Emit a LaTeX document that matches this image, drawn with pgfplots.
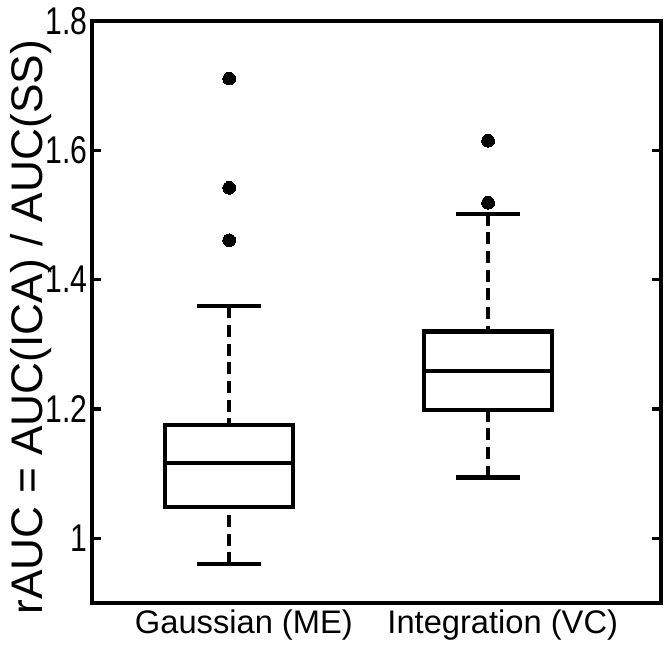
\documentclass[border=0pt]{standalone}
\usepackage{fontspec}
\setmainfont{Liberation Sans}
\newfontfamily\narrowsans[FakeStretch=0.78]{Liberation Sans}
\usepackage{pgfplots}
\pgfplotsset{compat=1.18}
\usepgfplotslibrary{statistics}
\usetikzlibrary{calc}

% MATLAB-like boxplot: dashed stems, solid caps
\pgfplotsset{
  mlbox/.style={
    black, line width=3.2pt,
    mark=*, mark size=4.8pt,
    mark options={solid, fill=black, line width=0pt},
    boxplot/draw direction=y,
    boxplot/box extend=0.494,
    boxplot/whisker extend=0.247,
    boxplot/draw/lower whisker/.code={%
      \draw[dash pattern=on 9pt off 5pt]
        (boxplot whisker cs:\pgfplotsboxplotvalue{lower whisker},0.5) --
        (boxplot whisker cs:\pgfplotsboxplotvalue{lower quartile},0.5);
      \draw
        (boxplot whisker cs:\pgfplotsboxplotvalue{lower whisker},0) --
        (boxplot whisker cs:\pgfplotsboxplotvalue{lower whisker},1);
    },
    boxplot/draw/upper whisker/.code={%
      \draw[dash pattern=on 9pt off 5pt]
        (boxplot whisker cs:\pgfplotsboxplotvalue{upper whisker},0.5) --
        (boxplot whisker cs:\pgfplotsboxplotvalue{upper quartile},0.5);
      \draw
        (boxplot whisker cs:\pgfplotsboxplotvalue{upper whisker},0) --
        (boxplot whisker cs:\pgfplotsboxplotvalue{upper whisker},1);
    },
  },
}

\begin{document}
\begin{tikzpicture}
\begin{axis}[
    scale only axis,
    width=426.75pt, height=436.5pt,
    xmin=0.47, xmax=2.668,
    ymin=0.9, ymax=1.8,
    axis line style={line width=2.5pt},
    xtick={1,2},
    xticklabels={Gaussian (ME), Integration (VC)},
    xtick style={draw=none},
    ytick={1,1.2,1.4,1.6,1.8},
    yticklabels={1,1.2,1.4,1.6,1.8},
    ytick style={line width=2.5pt, black},
    tick align=inside,
    major tick length=7pt,
    yticklabel style={font=\narrowsans\fontsize{29}{29}\selectfont, inner sep=0pt, xshift=-3pt},
    xticklabel style={font=\fontsize{24.5}{24.5}\selectfont, inner sep=0pt, yshift=-5pt, xshift=11pt},
    ylabel={rAUC = AUC(ICA) / AUC(SS)},
    ylabel style={font=\fontsize{33.2}{33.2}\selectfont,
                  at={(axis description cs:-0.107,0.474)}, anchor=center},
]

% Gaussian (ME)
\addplot+[mlbox, boxplot prepared={
    draw position=1,
    lower whisker=0.960, lower quartile=1.048, median=1.116,
    upper quartile=1.175, upper whisker=1.359}]
  table[row sep=\\, y index=0] {data\\ 1.711\\ 1.542\\ 1.461\\};

% Integration (VC)
\addplot+[mlbox, boxplot prepared={
    draw position=2,
    lower whisker=1.094, lower quartile=1.198, median=1.259,
    upper quartile=1.320, upper whisker=1.502}]
  table[row sep=\\, y index=0] {data\\ 1.615\\ 1.519\\};

\end{axis}
\pgfresetboundingbox
\path[use as bounding box]
  ($(current axis.south west)+(-69pt,-35.25pt)$) rectangle
  ($(current axis.north east)+(7.5pt,15.75pt)$);
\end{tikzpicture}
\end{document}
